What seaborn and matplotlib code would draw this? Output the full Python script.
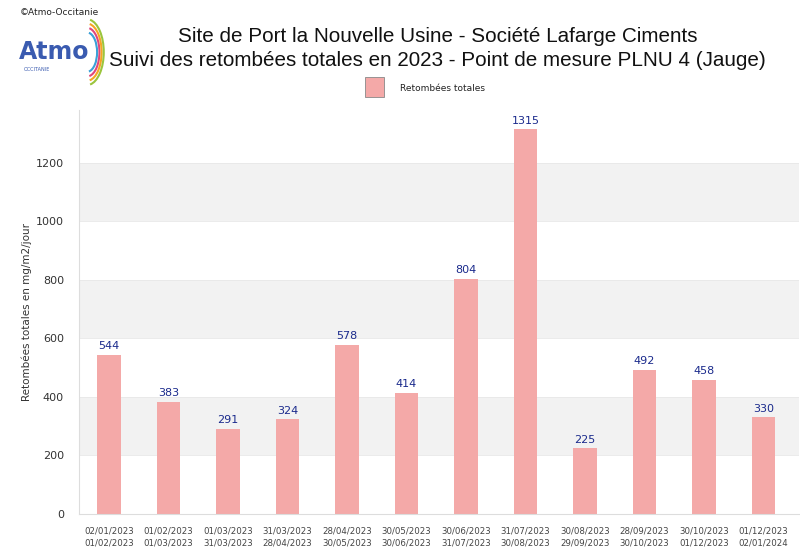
import matplotlib
matplotlib.use("Agg")
import matplotlib.pyplot as plt
import seaborn as sns
import pandas as pd
from matplotlib.patches import Arc

sns.set_theme(style="white")
plt.rcParams['font.family'] = ['DejaVu Sans']

starts = ["02/01/2023", "01/02/2023", "01/03/2023", "31/03/2023", "28/04/2023", "30/05/2023",
          "30/06/2023", "31/07/2023", "30/08/2023", "28/09/2023", "30/10/2023", "01/12/2023"]
ends = ["01/02/2023", "01/03/2023", "31/03/2023", "28/04/2023", "30/05/2023", "30/06/2023",
        "31/07/2023", "30/08/2023", "29/09/2023", "30/10/2023", "01/12/2023", "02/01/2024"]
values = [544, 383, 291, 324, 578, 414, 804, 1315, 225, 492, 458, 330]
yticks = [0, 200, 400, 600, 800, 1000, 1200]

labels = [f"{s}\n{e}" for s, e in zip(starts, ends)]
df = pd.DataFrame({"periode": labels, "val": values})

fig = plt.figure(figsize=(8, 5.49), dpi=100)
ax = fig.add_axes([0.099, 0.064, 0.9, 0.736])

for lo in (200, 600, 1000):
    ax.axhspan(lo, lo + 200, color="#f2f2f2", zorder=0, lw=0)
for y in yticks[1:]:
    ax.axhline(y, color="#e8e8e8", lw=0.6, zorder=0.5)

bar_color = "#f4a9a8"
sns.barplot(data=df, x="periode", y="val", color=bar_color, width=0.39, ax=ax,
            saturation=1, zorder=2, edgecolor="none", linewidth=0)

for i, v in enumerate(values):
    ax.text(i, v + 12, str(v), ha="center", va="bottom", fontsize=8, color="#1a2a8c")

ax.set_ylim(0, 1381)
ax.set_xlim(-0.5, 11.6)
ax.set_yticks(yticks)
ax.set_yticklabels([str(t) for t in yticks], fontsize=8, color="#333333")
ax.tick_params(axis="x", labelsize=6.2, colors="#444444", pad=9, length=0)
ax.tick_params(axis="y", length=0, pad=11)
for t in ax.get_xticklabels():
    t.set_linespacing(1.4)
ax.set_xlabel("")
ax.set_ylabel("Retombées totales en mg/m2/jour", fontsize=7.5, color="#333333")
ax.yaxis.set_label_coords(-0.065, 0.5)
for s in ("top", "right"):
    ax.spines[s].set_visible(False)
for s in ("left", "bottom"):
    ax.spines[s].set_color("#dddddd")
    ax.spines[s].set_linewidth(0.8)

tfont = ["Liberation Sans", "DejaVu Sans"]
fig.text(0.547, 0.933, "Site de Port la Nouvelle Usine - Société Lafarge Ciments",
         ha="center", va="center", fontsize=14.9, color="#111111", family=tfont)
fig.text(0.547, 0.889, "Suivi des retombées totales en 2023 - Point de mesure PLNU 4 (Jauge)",
         ha="center", va="center", fontsize=14.9, color="#111111", family=tfont)

# legend
fig.patches.append(plt.Rectangle((0.456, 0.824), 0.024, 0.035, transform=fig.transFigure,
                                 facecolor=bar_color, edgecolor="#888888", lw=0.6))
fig.text(0.5, 0.838, "Retombées totales", ha="left", va="center", fontsize=6.5, color="#222222")

# logo
fig.text(0.025, 0.985, "©Atmo-Occitanie", ha="left", va="top", fontsize=6.5, color="#222222")
fig.text(0.023, 0.905, "Atmo", ha="left", va="center", fontsize=17, color="#3a5bb0",
         fontweight="bold")
fig.text(0.03, 0.873, "OCCITANIE", ha="left", va="center", fontsize=3.5, color="#3a5bb0")
lax = fig.add_axes([0.1, 0.84, 0.045, 0.13])
lax.set_xlim(-1, 1); lax.set_ylim(-1, 1); lax.axis("off")
for r, c in [(0.55, "#3ba0d8"), (0.68, "#e0467c"), (0.8, "#f5a623"), (0.92, "#9bc53d")]:
    lax.add_patch(Arc((-0.6, 0), 2 * r, 2 * r, theta1=-80, theta2=80, color=c, lw=1.5))

fig.savefig("out.png", dpi=100)
